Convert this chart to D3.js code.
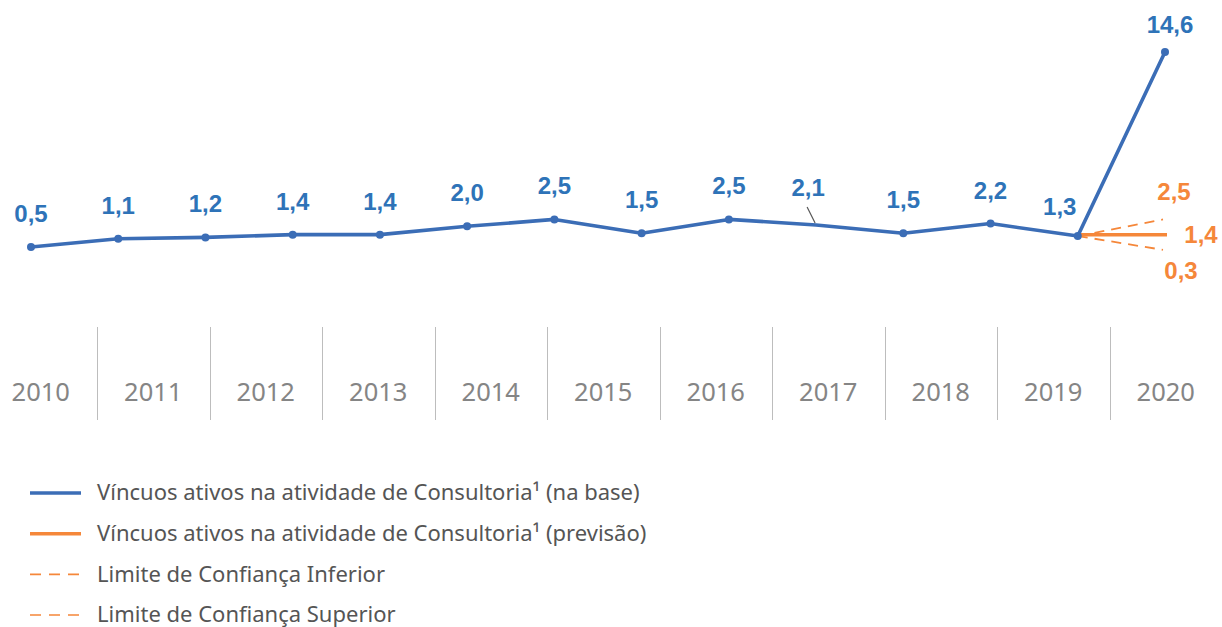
<!DOCTYPE html>
<html>
<head>
<meta charset="utf-8">
<script src="https://cdn.jsdelivr.net/npm/d3@7"></script>
<style>
  html, body { margin: 0; padding: 0; background: #fff; }
  svg { display: block; }
</style>
</head>
<body>
<div id="chart"></div>
<script>
// data
const years = ['2010', '2011', '2012', '2013', '2014', '2015', '2016', '2017', '2018', '2019', '2020'];
const baseValues = [0.5, 1.1, 1.2, 1.4, 1.4, 2.0, 2.5, 1.5, 2.5, 2.1, 1.5, 2.2, 1.3, 14.6];
const forecastValue = 1.4;
const lowerValue = 0.3;
const upperValue = 2.5;
const legendLabels = [
    'Víncuos ativos na atividade de Consultoria¹ (na base)',
    'Víncuos ativos na atividade de Consultoria¹ (previsão)',
    'Limite de Confiança Inferior',
    'Limite de Confiança Superior'
];

const W = 1222, H = 627;
const blue = '#3B6DB6', blueText = '#2E73B8', orange = '#F5873A';
const fmt = v => d3.format('.1f')(v).replace('.', ',');

const svg = d3.select('#chart').append('svg')
    .attr('width', W)
    .attr('height', H);

// point scale over the base series, value scale
const x = d3.scaleLinear().domain([0, baseValues.length - 1]).range([31, 1165]);
const y = d3.scaleLinear().domain([0, 14.6]).range([254, 52]);
const pts = baseValues.map((v, i) => ({ v: v, i: i }));

// forecast fan from the last base-but-one point
const last = baseValues.length - 2;
const fx0 = x(last), fy0 = y(baseValues[last]);
const fx1 = x(last + 1);

const fan = [upperValue, lowerValue];
svg.selectAll('line.fan')
    .data(fan)
    .enter()
    .append('line')
    .attr('class', 'fan')
    .attr('x1', fx0).attr('y1', fy0)
    .attr('x2', fx1 - 2).attr('y2', d => y(d))
    .attr('stroke', orange)
    .attr('stroke-width', 1.8)
    .attr('stroke-dasharray', '10,7');

svg.append('line')
    .attr('x1', fx0).attr('y1', y(forecastValue))
    .attr('x2', fx1 + 2).attr('y2', y(forecastValue))
    .attr('stroke', orange)
    .attr('stroke-width', 3.5);

// base line
const line = d3.line().x(d => x(d.i)).y(d => y(d.v));
svg.append('path')
    .datum(pts)
    .attr('d', line)
    .attr('fill', 'none')
    .attr('stroke', blue)
    .attr('stroke-width', 3.6)
    .attr('stroke-linejoin', 'round');

svg.selectAll('circle.pt')
    .data(pts.filter(d => d.i !== 9))
    .enter()
    .append('circle')
    .attr('class', 'pt')
    .attr('cx', d => x(d.i))
    .attr('cy', d => y(d.v))
    .attr('r', 4)
    .attr('fill', blue);

// value labels; a few are nudged like in the original
const nudge = { 9: [-8, -29], 12: [-18, -21], 13: [5, -19] };
svg.selectAll('text.val')
    .data(pts)
    .enter()
    .append('text')
    .attr('class', 'val')
    .attr('x', d => x(d.i) + (nudge[d.i] ? nudge[d.i][0] : 0))
    .attr('y', d => y(d.v) + (nudge[d.i] ? nudge[d.i][1] : -25))
    .attr('text-anchor', 'middle')
    .attr('font-family', 'Liberation Sans, Arial, sans-serif')
    .attr('font-weight', 'bold')
    .attr('font-size', 24)
    .attr('fill', blueText)
    .text(d => fmt(d.v));

// leader for the 2,1 label
svg.append('line')
    .attr('x1', x(9) - 9).attr('y1', y(baseValues[9]) - 18)
    .attr('x2', x(9) - 1).attr('y2', y(baseValues[9]) - 2)
    .attr('stroke', '#555')
    .attr('stroke-width', 1.2);

// forecast labels
const fLabels = [
    { v: upperValue, dx: 9, dy: -19 },
    { v: forecastValue, dx: 36, dy: 8 },
    { v: lowerValue, dx: 16, dy: 29 }
];
svg.selectAll('text.fc')
    .data(fLabels)
    .enter()
    .append('text')
    .attr('class', 'fc')
    .attr('x', d => fx1 + d.dx)
    .attr('y', d => y(d.v) + d.dy)
    .attr('text-anchor', 'middle')
    .attr('font-family', 'Liberation Sans, Arial, sans-serif')
    .attr('font-weight', 'bold')
    .attr('font-size', 24)
    .attr('fill', orange)
    .text(d => fmt(d.v));

// year axis as bands with separators
const band = d3.scaleBand().domain(years).range([-15.5, 1222]).padding(0);
const axis = svg.append('g');
axis.selectAll('line.sep')
    .data(years.slice(1))
    .enter()
    .append('line')
    .attr('class', 'sep')
    .attr('x1', d => Math.round(band(d)) + 0.5)
    .attr('x2', d => Math.round(band(d)) + 0.5)
    .attr('y1', 327).attr('y2', 420)
    .attr('stroke', '#bdbdbd')
    .attr('stroke-width', 1);
axis.selectAll('text.year')
    .data(years)
    .enter()
    .append('text')
    .attr('class', 'year')
    .attr('x', d => band(d) + band.bandwidth() / 2)
    .attr('y', 401)
    .attr('text-anchor', 'middle')
    .attr('font-family', 'Noto Sans, sans-serif')
    .attr('font-size', 25.5)
    .attr('fill', '#858585')
    .text(d => d);

// legend
const legend = svg.append('g').attr('transform', 'translate(30, 0)');
const legendRows = [
    { color: blue, dash: null, w: 3.5 },
    { color: orange, dash: null, w: 3.5 },
    { color: orange, dash: '11,8', w: 1.6 },
    { color: orange, dash: '11,8', w: 1.6 }
];
const ly = d3.scalePoint().domain(d3.range(4)).range([493, 615]);
const rows = legend.selectAll('g')
    .data(legendRows)
    .enter()
    .append('g')
    .attr('transform', (d, i) => `translate(0, ${ly(i)})`);
rows.append('line')
    .attr('x1', 0).attr('x2', 51)
    .attr('stroke', d => d.color)
    .attr('stroke-width', d => d.w)
    .attr('stroke-dasharray', d => d.dash);
rows.append('text')
    .attr('x', 67)
    .attr('dy', '0.33em')
    .attr('font-family', 'Noto Sans, sans-serif')
    .attr('font-size', 22)
    .attr('fill', '#555')
    .text((d, i) => legendLabels[i]);
</script>
</body>
</html>
